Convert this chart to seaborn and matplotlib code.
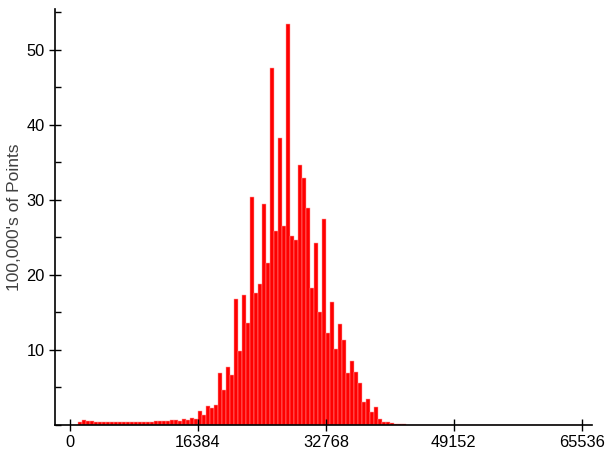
import numpy as np
import pandas as pd
import matplotlib
matplotlib.use('Agg')
import matplotlib.pyplot as plt
import seaborn as sns
from matplotlib.ticker import MultipleLocator

# bin width 512 on a 0..65536 range, heights in 100,000's of points
bin_width = 512
bin_index = np.arange(2, 86)
counts = [
    0.45, 0.65, 0.55, 0.5, 0.45, 0.45, 0.45, 0.45, 0.45, 0.45,        # 2-11
    0.45, 0.45, 0.42, 0.42, 0.42, 0.42, 0.45, 0.45, 0.45, 0.5,        # 12-21
    0.5, 0.55, 0.55, 0.6, 0.7, 0.5, 0.85, 0.6, 0.9, 0.75,             # 22-31
    1.9, 1.3, 2.5, 2.3, 2.7, 6.9, 4.6, 7.7, 6.7, 16.8,                # 32-41
    9.9, 17.3, 13.6, 30.4, 17.6, 18.8, 29.5, 21.6, 47.6, 25.8,        # 42-51
    38.2, 26.5, 53.5, 25.2, 24.6, 34.6, 32.9, 28.9, 18.2, 24.2,       # 52-61
    15.0, 27.5, 12.2, 16.4, 10.1, 13.4, 11.3, 6.9, 8.5, 7.0,          # 62-71
    5.6, 3.1, 3.5, 1.7, 2.4, 0.75, 0.45, 0.35, 0.25, 0.15,            # 72-81
    0.1, 0.08, 0.05, 0.03,                                            # 82-85
]
x_ticks = [0, 16384, 32768, 49152, 65536]
y_ticks = [10, 20, 30, 40, 50]

df = pd.DataFrame({'value': (bin_index + 0.5) * bin_width, 'count': counts})
edges = list(range(0, 65536 + bin_width, bin_width))

plt.rcParams['font.family'] = ['Liberation Sans', 'DejaVu Sans']
fig = plt.figure(figsize=(6.05, 4.53), dpi=100)
ax = fig.add_axes([0.091, 0.062, 0.887, 0.919])

sns.histplot(data=df, x='value', weights='count', bins=edges, ax=ax,
             color='#ff0000', alpha=1.0, edgecolor='#ff9a9a', linewidth=0.35)

ax.set_xlim(-1920, 66816)
ax.set_ylim(0, 55.5)
ax.set_xticks(x_ticks)
ax.set_xticklabels([str(t) for t in x_ticks])
ax.set_yticks(y_ticks)
ax.yaxis.set_minor_locator(MultipleLocator(5))
ax.tick_params(axis='both', which='major', direction='inout', length=8,
               width=1, labelsize=11.8, colors='black')
ax.tick_params(axis='y', which='minor', direction='in', length=4, width=1)
ax.set_xlabel('')
ax.set_ylabel("100,000's of Points", fontsize=12.5, color='#404040', labelpad=3)

for side in ['top', 'right']:
    ax.spines[side].set_visible(False)
for side in ['left', 'bottom']:
    ax.spines[side].set_linewidth(1.2)

fig.savefig('out.png', dpi=100)
